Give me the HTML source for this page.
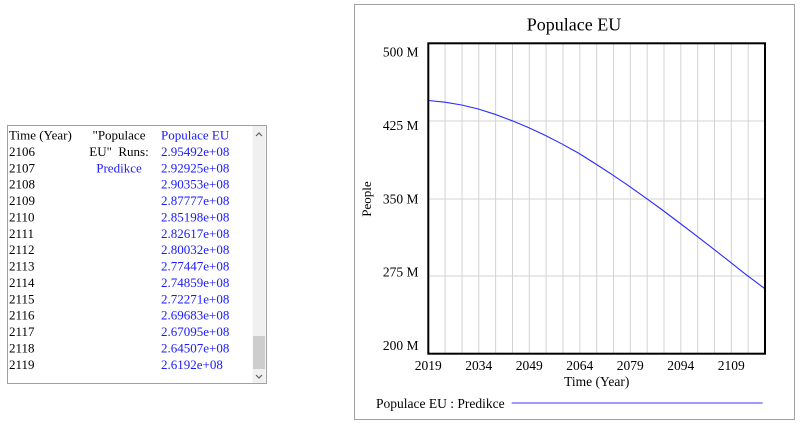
<!DOCTYPE html>
<html>
<head>
<meta charset="utf-8">
<style>
html,body{margin:0;padding:0;background:#fff;width:800px;height:427px;overflow:hidden;}
svg{display:block;}
text{font-family:"Liberation Serif",serif;}
</style>
</head>
<body>
<svg width="800" height="427" viewBox="0 0 800 427" xmlns="http://www.w3.org/2000/svg">
  <!-- Table panel -->
  <rect x="7.5" y="125.5" width="259" height="258" fill="#fff" stroke="#a0a0a0" stroke-width="1"/>
  <!-- scrollbar -->
  <rect x="252.5" y="126" width="13" height="257" fill="#f0f0f0"/>
  <rect x="253" y="336" width="12" height="33" fill="#cdcdcd"/>
  <path d="M256 136 L259 133 L262 136" fill="none" stroke="#606060" stroke-width="1.2"/>
  <path d="M256 375 L259 378 L262 375" fill="none" stroke="#606060" stroke-width="1.2"/>

  <g font-size="13" fill="#000">
    <text x="9" y="139.5">Time (Year)</text>
    <text x="9" y="155.9">2106</text>
    <text x="9" y="172.3">2107</text>
    <text x="9" y="188.6">2108</text>
    <text x="9" y="205">2109</text>
    <text x="9" y="221.4">2110</text>
    <text x="9" y="237.8">2111</text>
    <text x="9" y="254.2">2112</text>
    <text x="9" y="270.5">2113</text>
    <text x="9" y="286.9">2114</text>
    <text x="9" y="303.3">2115</text>
    <text x="9" y="319.7">2116</text>
    <text x="9" y="336.1">2117</text>
    <text x="9" y="352.4">2118</text>
    <text x="9" y="368.8">2119</text>
    <text x="119" y="139.5" text-anchor="middle">"Populace</text>
    <text x="119" y="155.9" text-anchor="middle" xml:space="preserve">EU"  Runs:</text>
  </g>
  <g font-size="13" fill="#1a1aff">
    <text x="119" y="172.3" text-anchor="middle">Predikce</text>
    <text x="161" y="139.5">Populace EU</text>
    <text x="161" y="155.9">2.95492e+08</text>
    <text x="161" y="172.3">2.92925e+08</text>
    <text x="161" y="188.6">2.90353e+08</text>
    <text x="161" y="205">2.87777e+08</text>
    <text x="161" y="221.4">2.85198e+08</text>
    <text x="161" y="237.8">2.82617e+08</text>
    <text x="161" y="254.2">2.80032e+08</text>
    <text x="161" y="270.5">2.77447e+08</text>
    <text x="161" y="286.9">2.74859e+08</text>
    <text x="161" y="303.3">2.72271e+08</text>
    <text x="161" y="319.7">2.69683e+08</text>
    <text x="161" y="336.1">2.67095e+08</text>
    <text x="161" y="352.4">2.64507e+08</text>
    <text x="161" y="368.8">2.6192e+08</text>
  </g>

  <!-- Chart panel -->
  <rect x="354.5" y="4.5" width="440" height="415" fill="#fff" stroke="#a0a0a0" stroke-width="1"/>
  <text x="574" y="30.5" font-size="18" text-anchor="middle" fill="#000">Populace EU</text>

  <!-- gridlines -->
  <g stroke="#d3d3d3" stroke-width="1">
    <line x1="445.1" y1="44" x2="445.1" y2="353"/>
    <line x1="462" y1="44" x2="462" y2="353"/>
    <line x1="478.8" y1="44" x2="478.8" y2="353"/>
    <line x1="495.6" y1="44" x2="495.6" y2="353"/>
    <line x1="512.5" y1="44" x2="512.5" y2="353"/>
    <line x1="529.3" y1="44" x2="529.3" y2="353"/>
    <line x1="546.1" y1="44" x2="546.1" y2="353"/>
    <line x1="563" y1="44" x2="563" y2="353"/>
    <line x1="579.8" y1="44" x2="579.8" y2="353"/>
    <line x1="596.7" y1="44" x2="596.7" y2="353"/>
    <line x1="613.5" y1="44" x2="613.5" y2="353"/>
    <line x1="630.3" y1="44" x2="630.3" y2="353"/>
    <line x1="647.2" y1="44" x2="647.2" y2="353"/>
    <line x1="664" y1="44" x2="664" y2="353"/>
    <line x1="680.8" y1="44" x2="680.8" y2="353"/>
    <line x1="697.7" y1="44" x2="697.7" y2="353"/>
    <line x1="714.5" y1="44" x2="714.5" y2="353"/>
    <line x1="731.3" y1="44" x2="731.3" y2="353"/>
    <line x1="748.2" y1="44" x2="748.2" y2="353"/>
    <line x1="429" y1="121" x2="764" y2="121"/>
    <line x1="429" y1="199" x2="764" y2="199"/>
    <line x1="429" y1="276" x2="764" y2="276"/>
  </g>

  <!-- curve -->
  <polyline fill="none" stroke="#2a2aff" stroke-width="1.1"
    points="428.3,100.5 445,102.2 461.7,105 478.3,109 495,114.3 512.3,120.8 528.3,127.5 545,135.3 561.7,143.8 578.3,153 595,163.5 611.7,174.3 628.3,185.6 645,197.4 661.7,209.5 678.3,222 695,234.7 711.7,247.6 728.3,260.6 745,273.8 765,288.8"/>

  <!-- plot border -->
  <rect x="428.3" y="43.3" width="336.7" height="310.4" fill="none" stroke="#000" stroke-width="2"/>

  <!-- y tick labels -->
  <g font-size="13.5" fill="#000" text-anchor="end">
    <text x="418.5" y="56.7">500 M</text>
    <text x="418.5" y="130">425 M</text>
    <text x="418.5" y="203.3">350 M</text>
    <text x="418.5" y="276.7">275 M</text>
    <text x="418.5" y="350">200 M</text>
  </g>
  <text x="371" y="199" font-size="13" text-anchor="middle" transform="rotate(-90 371 199)">People</text>

  <!-- x tick labels -->
  <g font-size="13.5" fill="#000" text-anchor="middle">
    <text x="428.3" y="370">2019</text>
    <text x="478.8" y="370">2034</text>
    <text x="529.3" y="370">2049</text>
    <text x="579.8" y="370">2064</text>
    <text x="630.3" y="370">2079</text>
    <text x="680.8" y="370">2094</text>
    <text x="731.3" y="370">2109</text>
  </g>
  <text x="596.7" y="386" font-size="13.5" text-anchor="middle">Time (Year)</text>

  <!-- legend -->
  <text x="376" y="408" font-size="13.5">Populace EU : Predikce</text>
  <line x1="511.7" y1="403" x2="762.7" y2="403" stroke="#3a3aff" stroke-width="1"/>
</svg>
</body>
</html>
